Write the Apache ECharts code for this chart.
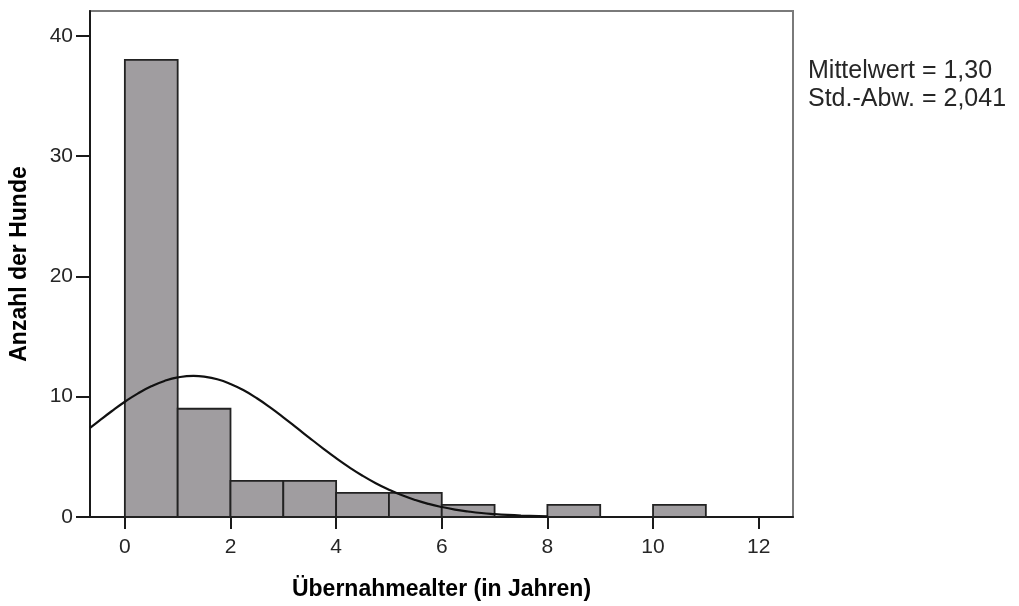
<!DOCTYPE html>
<html>
<head>
<meta charset="utf-8">
<script src="https://cdn.jsdelivr.net/npm/echarts@6/dist/echarts.min.js"></script>
<style>
  html, body { margin: 0; padding: 0; background: #ffffff; }
  #chart { width: 1019px; height: 606px; }
</style>
</head>
<body>
<div id="chart"></div>
<script>
// Histogram bins (lower edge, width 1 year) and their counts
const binStarts = [0, 1, 2, 3, 4, 5, 6, 7, 8, 9, 10];
const binCounts = [38, 9, 3, 3, 2, 2, 1, 0, 1, 0, 1];
const binWidth = 1;

// Fitted normal curve, read point by point: [age, count]
const curveX = [-0.66, -0.5, -0.25, 0, 0.25, 0.5, 0.75, 1, 1.3, 1.5, 1.75, 2, 2.25, 2.5, 2.75, 3, 3.25, 3.5, 3.75, 4, 4.25, 4.5, 4.75, 5, 5.25, 5.5, 5.75, 6, 6.25, 6.5, 6.75, 7, 7.25, 7.5, 8];
const curveY = [7.40, 7.95, 8.79, 9.58, 10.28, 10.86, 11.31, 11.60, 11.73, 11.67, 11.45, 11.06, 10.53, 9.87, 9.11, 8.29, 7.43, 6.56, 5.71, 4.89, 4.13, 3.43, 2.81, 2.27, 1.80, 1.41, 1.09, 0.83, 0.62, 0.46, 0.33, 0.24, 0.17, 0.12, 0.05];

// Axis ticks
const xTicks = [0, 2, 4, 6, 8, 10, 12];
const yTicks = [0, 10, 20, 30, 40];

// Summary statistics shown beside the plot
const statLines = ['Mittelwert = 1,30', 'Std.-Abw. = 2,041'];

const FONT = '"Liberation Sans", Arial, sans-serif';

const barData = binStarts.map((s, i) => [s, s + binWidth, binCounts[i]]);
const curveData = curveX.map((x, i) => [x, curveY[i]]);

const chart = echarts.init(document.getElementById('chart'), null, { renderer: 'canvas' });

chart.setOption({
  backgroundColor: '#ffffff',
  animation: false,
  grid: {
    left: 88, top: 11, width: 705, height: 511,
    show: true, borderColor: '#7a7a7a', borderWidth: 2, backgroundColor: 'transparent'
  },
  xAxis: {
    type: 'value',
    min: -0.66, max: 12.65,
    name: 'Übernahmealter (in Jahren)',
    nameLocation: 'middle',
    nameGap: 61,
    nameTextStyle: { fontFamily: FONT, fontSize: 23, fontWeight: 'bold', color: '#000' },
    axisLine: { show: true, onZero: false, lineStyle: { color: '#1a1a1a', width: 2 } },
    axisTick: { show: true, inside: false, length: 12, customValues: xTicks, lineStyle: { color: '#1a1a1a', width: 2 } },
    axisLabel: { customValues: xTicks, margin: 20, fontFamily: FONT, fontSize: 21, color: '#262626' },
    splitLine: { show: false }
  },
  yAxis: {
    type: 'value',
    min: 0, max: 42.06,
    name: 'Anzahl der Hunde',
    nameLocation: 'middle',
    nameGap: 59,
    nameTextStyle: { fontFamily: FONT, fontSize: 23, fontWeight: 'bold', color: '#000' },
    axisLine: { show: true, onZero: false, lineStyle: { color: '#1a1a1a', width: 2 } },
    axisTick: { show: true, inside: false, length: 14, customValues: yTicks, lineStyle: { color: '#1a1a1a', width: 2 } },
    axisLabel: { customValues: yTicks, margin: 17, fontFamily: FONT, fontSize: 21, color: '#262626' },
    splitLine: { show: false }
  },
  series: [
    {
      type: 'custom',
      data: barData,
      encode: { x: [0, 1], y: 2 },
      renderItem: function (params, api) {
        const count = api.value(2);
        if (!count) return null;
        const p0 = api.coord([api.value(0), 0]);
        const p1 = api.coord([api.value(1), count]);
        return {
          type: 'rect',
          shape: { x: p0[0], y: p1[1], width: p1[0] - p0[0], height: p0[1] - p1[1] },
          style: { fill: '#a09da0', stroke: '#222', lineWidth: 1.8 }
        };
      },
      z: 2
    },
    {
      type: 'line',
      data: curveData,
      smooth: true,
      showSymbol: false,
      lineStyle: { color: '#111', width: 2.2 },
      z: 3
    }
  ],
  graphic: statLines.map((t, i) => ({
    type: 'text',
    left: 808,
    top: 59 + i * 28,
    style: { text: t, fontFamily: FONT, fontSize: 25, fill: '#262626' }
  }))
});
</script>
</body>
</html>
